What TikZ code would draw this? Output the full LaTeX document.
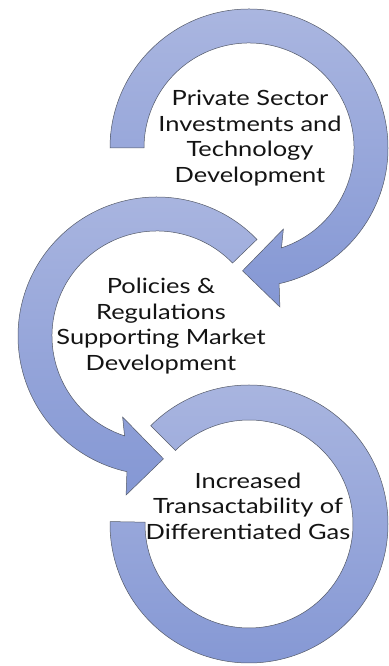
\documentclass[tikz,border=0pt]{standalone}
\usepackage{fontspec}
\setmainfont{Lato}[FakeStretch=1.21]
\usetikzlibrary{calc}
\definecolor{ringtop}{RGB}{170,182,224}
\definecolor{ringbot}{RGB}{132,151,212}
\definecolor{ringedge}{RGB}{84,90,104}
\definecolor{labeltext}{RGB}{20,20,20}
\tikzset{
  ring/.style={top color=ringtop, bottom color=ringbot, draw=ringedge, line width=0.5pt, line join=miter},
  label/.style={align=center, text=labeltext, font=\fontsize{21}{25.5}\selectfont, inner sep=0pt}
}
\begin{document}
\begin{tikzpicture}[x=1pt,y=1pt]
\useasboundingbox (0,0) rectangle (388,666);
% ring centres
\coordinate (c1) at (249,518);
\coordinate (c2) at (157,330);
\coordinate (c3) at (249,142);

% top ring: clockwise, arrow head at the bottom
\begin{scope}[shift={(c1)}]
  \path[ring] (180:139) arc[start angle=180, end angle=-77.5, radius=139]
    -- (-79:162) -- (-93:123) -- (-67:88) -- (-72:105)
    arc[start angle=-72, end angle=180, radius=105] -- cycle;
\end{scope}

% middle ring: counter-clockwise, arrow head at the bottom
\begin{scope}[shift={(c2)}]
  \path[ring] (44:139) arc[start angle=44, end angle=257.5, radius=139]
    -- (259:162) -- (273:123) -- (247:88) -- (252:105)
    arc[start angle=252, end angle=44, radius=105] -- cycle;
\end{scope}

% bottom ring: clockwise, open end on the left
\begin{scope}[shift={(c3)}]
  \path[ring] (135:139) arc[start angle=135, end angle=-181, radius=139]
    -- (-181:104) arc[start angle=-181, end angle=135, radius=104] -- cycle;
\end{scope}

\node[label] (t1) at (250,528) {Private Sector\\Investments and\\Technology\\Development};
\node[label] (t2) at (161,340) {Policies \&\\Regulations\\Supporting Market\\Development};
\node[label] (t3) at (248,160) {Increased\\Transactability of\\Differentiated Gas};
\end{tikzpicture}
\end{document}
